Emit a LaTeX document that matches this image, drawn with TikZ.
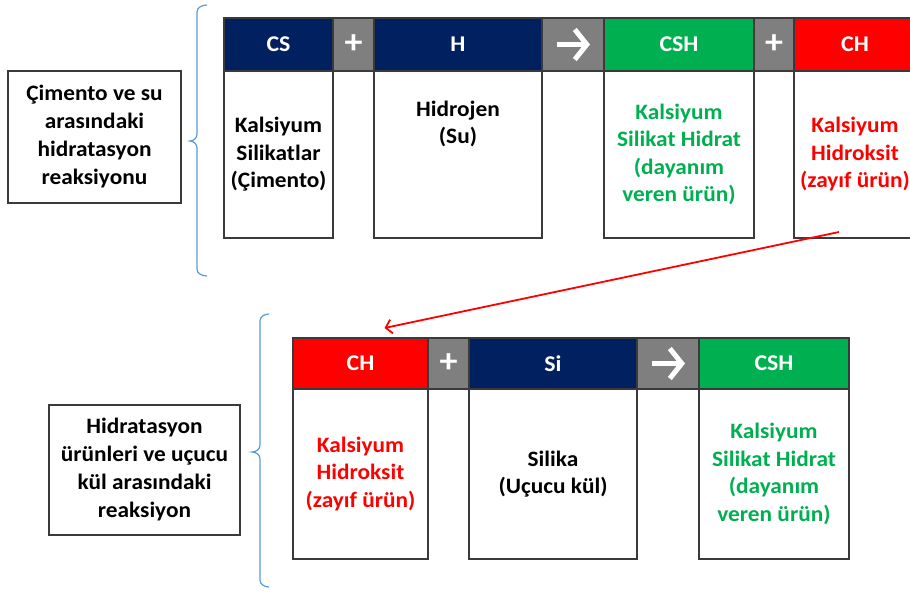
\documentclass[tikz,border=0pt]{standalone}
\usepackage{fontspec}
\setmainfont{Carlito}[FakeStretch=1.06]
\usetikzlibrary{positioning, arrows.meta, calc}
\definecolor{cNAVY}{HTML}{002060}
\definecolor{cGRAY}{HTML}{7F7F7F}
\definecolor{cGREEN}{HTML}{00B050}
\definecolor{cRED}{HTML}{FF0000}
\definecolor{cBRACE}{HTML}{5B9BD5}
\definecolor{cEDGE}{HTML}{3A3A3A}
\tikzset{
  headcell/.style={
    draw=cEDGE, line width=1.2pt,
    fill=#1,
    text=white,
    inner sep=0pt, outer sep=0pt,
    minimum height=53pt,
    font=\bfseries\fontsize{22.5}{25}\selectfont
  },
  opcell/.style={
    headcell=cGRAY,
    font=\bfseries\fontsize{34}{34}\selectfont
  },
  bodycell/.style={
    draw=cEDGE, line width=1.2pt,
    fill=white,
    inner sep=0pt, outer sep=0pt,
    minimum height=167pt,
    align=center,
    font=\bfseries\fontsize{22}{27.5}\selectfont
  },
  labelbox/.style={
    draw=cEDGE, line width=1.2pt,
    inner sep=0pt,
    align=center,
    font=\bfseries\fontsize{22}{28}\selectfont
  },
  brace/.style={draw=cBRACE, line width=1.2pt},
  yields/.style={
    -{Straight Barb[length=12pt,width=30pt,line width=5pt]},
    draw=white, line width=5pt
  },
  feedback/.style={
    -{Straight Barb[length=6pt,width=14pt]},
    draw=cRED, line width=1.8pt
  }
}

\begin{document}
\begin{tikzpicture}[x=1pt, y=-1pt]
  \useasboundingbox (0,0) rectangle (910,592);

  % first reaction
  \node[labelbox, minimum width=173pt, minimum height=132pt] (lbl1) at (94.5,137)
    {Çimento ve su\\arasındaki\\hidratasyon\\reaksiyonu};
  \draw[brace] (207,5) to[out=180,in=90] (197,12) -- (197,134)
    to[out=-90,in=0] (190,141) to[out=0,in=90] (197,148) -- (197,269)
    to[out=-90,in=180] (207,276);

  \node[headcell=cNAVY, minimum width=109pt, anchor=north west] (cs) at (224,18) {CS};
  \node[opcell, minimum width=41pt, right=0pt of cs] (plus1) {+};
  \node[headcell=cNAVY, minimum width=168pt, right=0pt of plus1] (h) {H};
  \node[opcell, minimum width=62pt, right=0pt of h] (to1) {};
  \node[headcell=cGREEN, minimum width=150pt, right=0pt of to1] (csh) {CSH};
  \node[opcell, minimum width=40pt, right=0pt of csh] (plus2) {+};
  \node[headcell=cRED, minimum width=122pt, right=0pt of plus2] (ch) {CH};

  \node[bodycell, minimum width=109pt, below=0pt of cs] (csbody) {Kalsiyum\\Silikatlar\\(Çimento)};
  \node[bodycell, minimum width=168pt, below=0pt of h] (hbody) {};
  \node[align=center, font=\bfseries\fontsize{22}{27.5}\selectfont] (htext)
    at ([yshift=-53pt]hbody.north) {Hidrojen\\(Su)};
  \node[bodycell, minimum width=150pt, below=0pt of csh, text=cGREEN] (cshbody)
    {Kalsiyum\\Silikat Hidrat\\(dayanım\\veren ürün)};
  \node[bodycell, minimum width=122pt, below=0pt of ch, text=cRED] (chbody)
    {Kalsiyum\\Hidroksit\\(zayıf ürün)};

  \draw[yields] ([xshift=-16pt]to1.center) -- ([xshift=17pt]to1.center);

  % second reaction
  \node[labelbox, minimum width=191pt, minimum height=130pt] (lbl2) at (144.5,470)
    {Hidratasyon\\ürünleri ve uçucu\\kül arasındaki\\reaksiyon};
  \draw[brace] (269,314) to[out=180,in=90] (260,321) -- (260,445)
    to[out=-90,in=0] (252,452) to[out=0,in=90] (260,459) -- (260,580)
    to[out=-90,in=180] (269,587);

  \node[headcell=cRED, minimum width=135pt, minimum height=51pt, anchor=north west] (chB) at (293,338) {CH};
  \node[opcell, minimum width=41pt, minimum height=51pt, right=0pt of chB] (plus3) {+};
  \node[headcell=cNAVY, minimum width=168pt, minimum height=51pt, right=0pt of plus3] (si) {Si};
  \node[opcell, minimum width=62pt, minimum height=51pt, right=0pt of si] (to2) {};
  \node[headcell=cGREEN, minimum width=150pt, minimum height=51pt, right=0pt of to2] (cshB) {CSH};

  \node[bodycell, minimum width=135pt, minimum height=170pt, below=0pt of chB, text=cRED] (chBbody)
    {Kalsiyum\\Hidroksit\\(zayıf ürün)};
  \node[bodycell, minimum width=168pt, minimum height=170pt, below=0pt of si] (sibody)
    {Silika\\(Uçucu kül)};
  \node[bodycell, minimum width=150pt, minimum height=170pt, below=0pt of cshB, text=cGREEN] (cshBbody)
    {Kalsiyum\\Silikat Hidrat\\(dayanım\\veren ürün)};

  \draw[yields] ([xshift=-16pt]to2.center) -- ([xshift=17pt]to2.center);

  % CH goes on to react with the fly ash
  \coordinate (chout) at ([xshift=-16pt,yshift=6pt]chbody.south);
  \coordinate (chin) at ([xshift=24pt,yshift=10pt]chB.north);
  \draw[feedback] (chout) -- (chin);
\end{tikzpicture}
\end{document}
